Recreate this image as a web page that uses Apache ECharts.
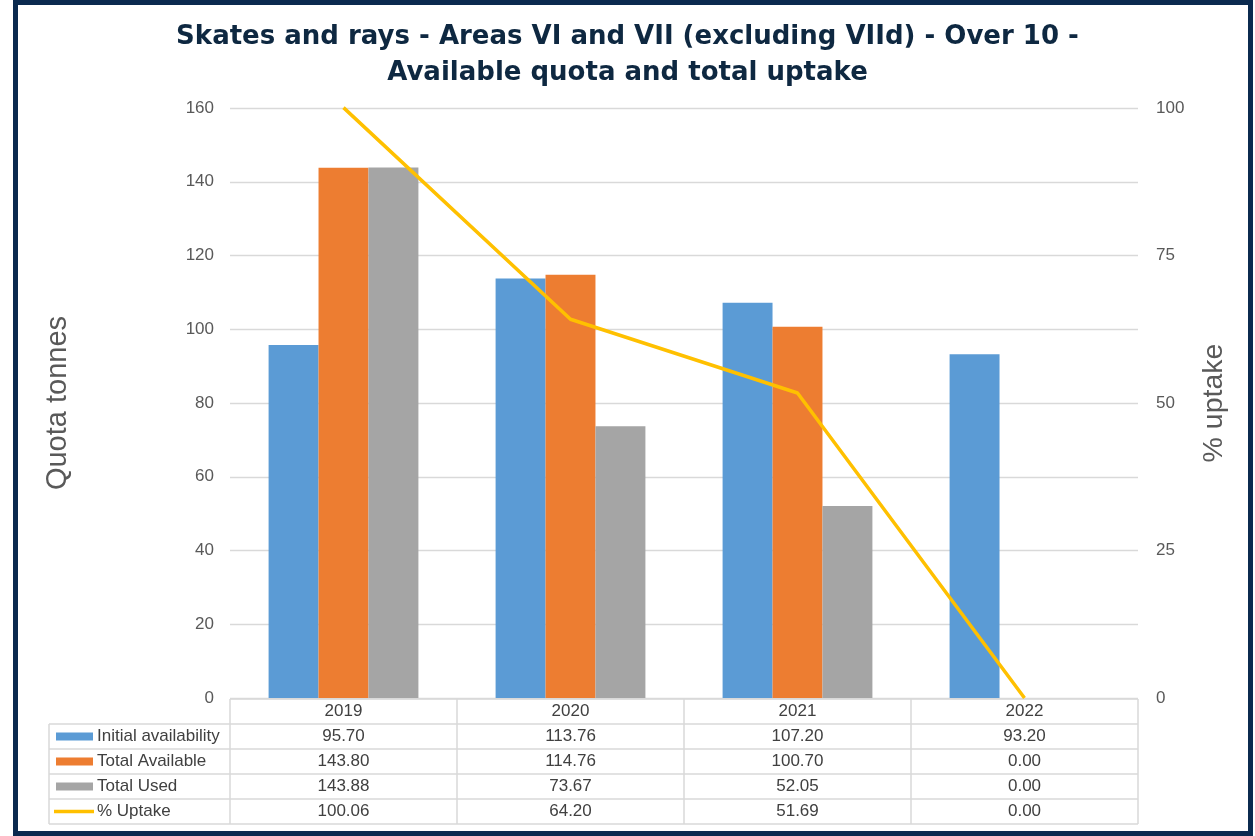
<!DOCTYPE html>
<html><head><meta charset="utf-8">
<script src="https://cdn.jsdelivr.net/npm/echarts@6/dist/echarts.min.js"></script>
<style>html,body{margin:0;padding:0;background:#fff}#c{width:1255px;height:836px}</style>
</head><body><div id="c"></div>
<script>
const categories = ['2019', '2020', '2021', '2022'];
const initialAvailability = [95.70, 113.76, 107.20, 93.20];
const totalAvailable = [143.80, 114.76, 100.70, 0.00];
const totalUsed = [143.88, 73.67, 52.05, 0.00];
const uptakePct = [100.06, 64.20, 51.69, 0.00];
const seriesNames = ['Initial availability', 'Total Available', 'Total Used', '% Uptake'];

const colors = ['#5B9BD5', '#ED7D31', '#A5A5A5', '#FFC000'];
const font = 'Liberation Sans, Arial, sans-serif';
const chart = echarts.init(document.getElementById('c'));

const option = {
  animation: false,
  textStyle: { fontFamily: font },
  title: {
    text: 'Skates and rays - Areas VI and VII (excluding VIId) - Over 10 -\nAvailable quota and total uptake',
    left: 'center', top: 14,
    textStyle: { fontFamily: 'DejaVu Sans, sans-serif', fontWeight: 'bold', fontSize: 26, color: '#0E2841', lineHeight: 36 }
  },
  grid: { left: 230, right: 117, top: 108, bottom: 138 },
  xAxis: {
    type: 'category', data: categories,
    axisLine: { show: false }, axisTick: { show: false }, axisLabel: { show: false }
  },
  yAxis: [
    {
      type: 'value', min: 0, max: 160, interval: 20,
      name: 'Quota tonnes', nameLocation: 'middle', nameGap: 158, nameRotate: 90,
      nameTextStyle: { fontSize: 29, color: '#595959', fontFamily: font },
      axisLine: { show: false }, axisTick: { show: false },
      axisLabel: { fontSize: 17, color: '#595959', margin: 16, fontFamily: font },
      splitLine: { lineStyle: { color: '#D9D9D9', width: 1.3 } }
    },
    {
      type: 'value', min: 0, max: 100, interval: 25,
      name: '% uptake', nameLocation: 'middle', nameGap: 62, nameRotate: 90,
      nameTextStyle: { fontSize: 28.5, color: '#595959', fontFamily: font },
      axisLine: { show: false }, axisTick: { show: false },
      axisLabel: { fontSize: 17, color: '#595959', margin: 18, fontFamily: font },
      splitLine: { show: false }
    }
  ],
  series: [
    { name: seriesNames[0], type: 'bar', data: initialAvailability, itemStyle: { color: colors[0] }, barGap: '0%', barCategoryGap: '34%' },
    { name: seriesNames[1], type: 'bar', data: totalAvailable, itemStyle: { color: colors[1] }, barGap: '0%', barCategoryGap: '34%' },
    { name: seriesNames[2], type: 'bar', data: totalUsed, itemStyle: { color: colors[2] }, barGap: '0%', barCategoryGap: '34%' },
    { name: seriesNames[3], type: 'line', yAxisIndex: 1, data: uptakePct, symbol: 'none', clip: false,
      lineStyle: { color: colors[3], width: 3.5 }, itemStyle: { color: colors[3] } }
  ]
};
chart.setOption(option);

// Build data table beneath the plot using the axis scale
const x0 = chart.convertToPixel({ xAxisIndex: 0 }, 0);
const x1 = chart.convertToPixel({ xAxisIndex: 0 }, 1);
const band = x1 - x0;
const yBase = chart.convertToPixel({ yAxisIndex: 0 }, 0);
const rowH = 25;
const tableLeft = 49;
const colLeft = x0 - band / 2;
const colRight = colLeft + band * categories.length;
const lineColor = '#D9D9D9';
const txtColor = '#404040';
const tFont = '17px ' + font;
const g = [];
const rowsData = [initialAvailability, totalAvailable, totalUsed, uptakePct];
const tTop = yBase + 1;
g.push({ type: 'line', shape: { x1: colLeft, y1: tTop, x2: colRight, y2: tTop }, style: { stroke: lineColor, lineWidth: 1.5 } });
for (let r = 1; r <= 5; r++) {
  const y = tTop + r * rowH;
  g.push({ type: 'line', shape: { x1: tableLeft, y1: y, x2: colRight, y2: y }, style: { stroke: lineColor, lineWidth: 1.5 } });
}
g.push({ type: 'line', shape: { x1: tableLeft, y1: tTop + rowH, x2: tableLeft, y2: tTop + 5 * rowH }, style: { stroke: lineColor, lineWidth: 1.5 } });
for (let c = 0; c <= categories.length; c++) {
  const x = colLeft + c * band;
  g.push({ type: 'line', shape: { x1: x, y1: tTop, x2: x, y2: tTop + 5 * rowH }, style: { stroke: lineColor, lineWidth: 1.5 } });
}
categories.forEach((cat, i) => {
  g.push({ type: 'text', x: chart.convertToPixel({ xAxisIndex: 0 }, i), y: tTop + rowH / 2,
    style: { text: cat, fill: txtColor, font: tFont, align: 'center', verticalAlign: 'middle' } });
});
rowsData.forEach((arr, r) => {
  const yc = tTop + (r + 1) * rowH + rowH / 2;
  if (r < 3) {
    g.push({ type: 'rect', shape: { x: 56, y: yc - 4, width: 37, height: 8 }, style: { fill: colors[r] } });
  } else {
    g.push({ type: 'line', shape: { x1: 54, y1: yc, x2: 94, y2: yc }, style: { stroke: colors[r], lineWidth: 3.5 } });
  }
  g.push({ type: 'text', x: 97, y: yc, style: { text: seriesNames[r], fill: txtColor, font: tFont, align: 'left', verticalAlign: 'middle' } });
  arr.forEach((v, i) => {
    g.push({ type: 'text', x: chart.convertToPixel({ xAxisIndex: 0 }, i), y: yc,
      style: { text: v.toFixed(2), fill: txtColor, font: tFont, align: 'center', verticalAlign: 'middle' } });
  });
});
g.push({ type: 'rect', shape: { x: 15.5, y: 2.5, width: 1235, height: 831 }, style: { fill: 'none', stroke: '#0B2A4F', lineWidth: 5 } });
chart.setOption({ graphic: g });
</script></body></html>
